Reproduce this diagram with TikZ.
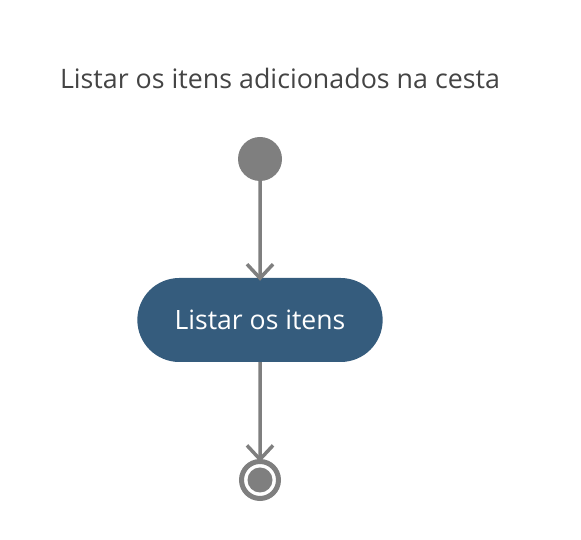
\documentclass[tikz,border=0pt]{standalone}
\usepackage{fontspec}
\setmainfont{Open Sans}
\usetikzlibrary{arrows.meta,shapes.misc}
\definecolor{cinza}{HTML}{7F7F7F}
\definecolor{azul}{HTML}{355C7D}
\definecolor{titulo}{HTML}{444444}
\begin{document}
\begin{tikzpicture}[x=1pt,y=1pt,
		seta/.style={draw=cinza, line width=3.5pt, shorten >=-3pt, -{Straight Barb[length=14pt,width=26pt,line width=3.5pt]}},
		inicio/.style={circle, fill=cinza, minimum size=44pt, inner sep=0pt},
		fim/.style={circle, draw=cinza, fill=white, line width=5pt, minimum size=37pt, inner sep=0pt,
			path picture={\fill[cinza] (path picture bounding box.center) circle (12.5pt);}},
		acao/.style={rounded rectangle, fill=azul, text=white, minimum width=252pt, minimum height=84pt, font=\fontsize{26.6}{30}\selectfont}]
		\useasboundingbox (0,0) rectangle (581,540);
		\node[text=titulo, font=\fontsize{26.8}{30}\selectfont] at (280,462) (tit) {Listar os itens adicionados na cesta};
		\node[inicio] at (260,381) (ini) {};
		\node[acao] at (260,220) (lis) {Listar os itens};
		\node[fim] at (260,60) (fin) {};
		\draw[seta] (ini) -- (lis);
		\draw[seta] (lis) -- (fin);
	\end{tikzpicture}
\end{document}
